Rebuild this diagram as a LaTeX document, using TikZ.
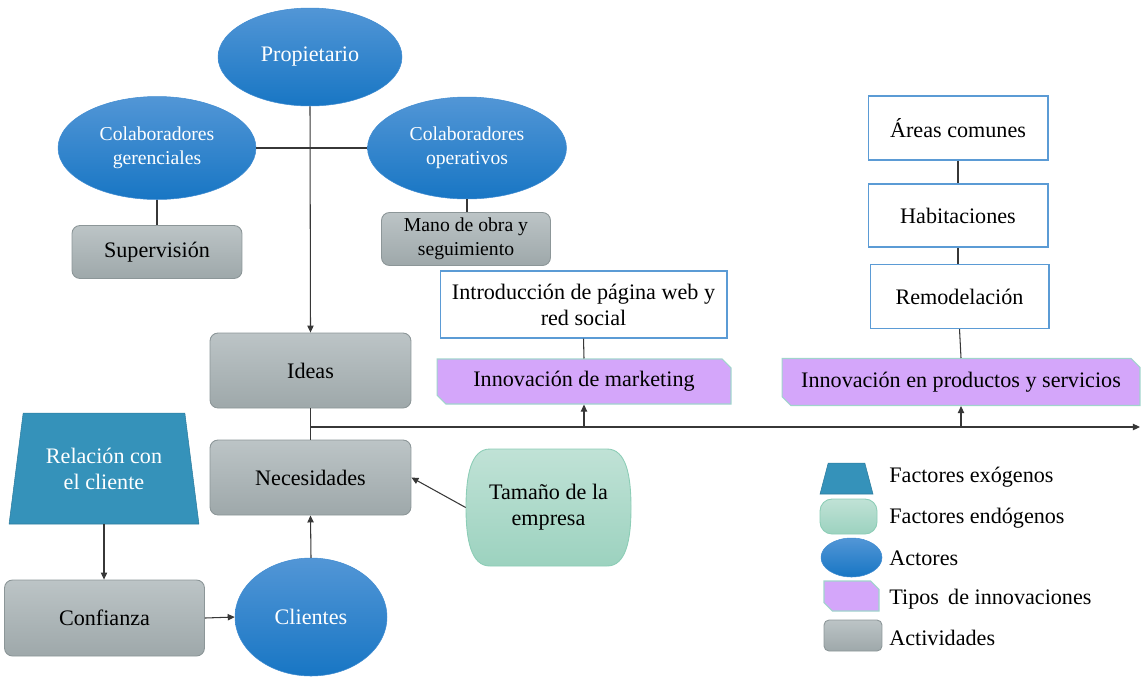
\documentclass[tikz,border=0pt]{standalone}
\usepackage{fontspec}
\setmainfont{Liberation Serif}
\usetikzlibrary{shapes.geometric,shapes.misc,arrows.meta}

\definecolor{actA}{RGB}{82,150,214}
\definecolor{actB}{RGB}{24,118,196}
\definecolor{grayA}{RGB}{188,196,198}
\definecolor{grayB}{RGB}{158,168,170}
\definecolor{grayEdge}{RGB}{140,150,152}
\definecolor{exoFill}{RGB}{53,146,186}
\definecolor{endoA}{RGB}{192,226,214}
\definecolor{endoB}{RGB}{156,210,191}
\definecolor{endoEdge}{RGB}{140,205,182}
\definecolor{innoFill}{RGB}{212,166,250}
\definecolor{innoEdge}{RGB}{160,212,204}
\definecolor{boxEdge}{RGB}{91,155,213}
\definecolor{wire}{RGB}{55,55,55}

\begin{document}
\begin{tikzpicture}[x=0.02cm,y=-0.02cm,
  every node/.style={font=\fontsize{12.6}{14.8}\selectfont},
  smalltext/.style={font=\fontsize{11.2}{13.7}\selectfont},
  actor/.style={ellipse, inner sep=0pt, top color=actA, bottom color=actB,
    draw=actA!70!actB, line width=0.3pt, text=white, align=center},
  activity/.style={rectangle, rounded corners=0.16cm, inner sep=0pt,
    top color=grayA, bottom color=grayB, draw=grayEdge, line width=0.5pt, align=center},
  plainbox/.style={rectangle, inner sep=0pt, fill=white, draw=boxEdge,
    line width=0.6pt, align=center},
  innov/.style={chamfered rectangle, chamfered rectangle corners={north east,south west},
    chamfered rectangle xsep=0.07cm, inner sep=0pt, fill=innoFill, draw=innoEdge,
    line width=0.6pt, align=center},
  exo/.style={trapezium, trapezium left angle=76.3, trapezium right angle=76.3,
    trapezium stretches=true, inner sep=0pt, fill=exoFill, draw=exoFill!85!black,
    line width=0.3pt, text=white, align=center},
  wireline/.style={draw=wire, line width=0.6pt},
  arrowline/.style={wireline, -{Triangle[length=4pt,width=3.6pt]}}
]
\useasboundingbox (0,0) rectangle (1141,677);

% ---------- actors ----------
\node[actor, minimum width=3.68cm, minimum height=1.96cm] (prop) at (310,57) {Propietario};
\node[actor, smalltext, minimum width=3.96cm, minimum height=2.06cm] (ger) at (157,148) {Colaboradores\\gerenciales};
\node[actor, smalltext, minimum width=3.98cm, minimum height=2.04cm] (ope) at (467,148) {Colaboradores\\operativos};
\node[actor, minimum width=3.04cm, minimum height=2.36cm] (cli) at (311,617) {Clientes};

% ---------- activities ----------
\node[activity, minimum width=3.4cm, minimum height=1.06cm] (sup) at (157,252) {Supervisión};
\node[activity, smalltext, minimum width=3.38cm, minimum height=1.06cm] (mano) at (466,239) {Mano de obra y\\seguimiento};
\node[activity, minimum width=4.02cm, minimum height=1.5cm] (ideas) at (310.5,370.5) {Ideas};
\node[activity, minimum width=4.02cm, minimum height=1.5cm] (need) at (310.5,477.5) {Necesidades};
\node[activity, minimum width=4.0cm, minimum height=1.52cm] (conf) at (104.5,618) {Confianza};

% ---------- innovation details ----------
\node[plainbox, minimum width=5.74cm, minimum height=1.34cm] (intro) at (583.5,304.5) {Introducción de página web y\\red social};
\node[plainbox, minimum width=3.6cm, minimum height=1.28cm] (areas) at (958,128) {Áreas comunes};
\node[plainbox, minimum width=3.6cm, minimum height=1.26cm] (hab) at (958,215.5) {Habitaciones};
\node[plainbox, minimum width=3.58cm, minimum height=1.28cm] (remo) at (959.5,296.5) {Remodelación};

% ---------- innovation types ----------
\node[innov, minimum width=5.88cm, minimum height=0.9cm] (mkt) at (584,381.5) {Innovación de marketing};
\node[innov, minimum width=7.16cm, minimum height=0.94cm] (prod) at (961,382) {Innovación en productos y servicios};

% ---------- exogenous factor ----------
\node[exo, minimum width=3.82cm, minimum height=2.22cm] (rel) at (104,468.5) {Relación con\\el cliente};

% ---------- endogenous factor ----------
\shade[top color=endoA, bottom color=endoB, draw=endoEdge, line width=0.5pt]
  (490,449) -- (607,449) .. controls (626,449) and (631,475) .. (631,507.5)
  .. controls (631,540) and (626,566) .. (607,566) -- (490,566)
  .. controls (471,566) and (466,540) .. (466,507.5)
  .. controls (466,475) and (471,449) .. (490,449) -- cycle;
\node[align=center, minimum width=3.3cm, minimum height=2.34cm, inner sep=0pt] (size) at (548.5,507.5) {Tamaño de la\\empresa};

% ---------- connectors ----------
\draw[arrowline] (prop.south) -- (ideas.north);
\draw[wireline] (ger.east) -- (ope.west);
\draw[wireline] (ger.south) -- (sup.north);
\draw[wireline] (ope.south) -- (mano.north -| ope.south);
\draw[wireline] (intro.south) -- (mkt.north);
\draw[wireline] (areas.south) -- (hab.north);
\draw[wireline] (hab.south) -- (remo.north -| hab.south);
\draw[wireline] (remo.south) -- (prod.north);
\draw[wireline] (ideas.south) -- (need.north);

\coordinate (branch) at (310.5,427);
\coordinate (axisend) at (1140,427);
\draw[arrowline] (branch) -- (axisend);
\draw[arrowline] (mkt.south |- branch) -- (mkt.south);
\draw[arrowline] (prod.south |- branch) -- (prod.south);

\draw[arrowline] (rel.south) -- (conf.north -| rel.south);
\draw[arrowline] (conf.east) -- (cli.west);
\draw[arrowline] (cli.north) -- (need.south);
\draw[arrowline] (size.west) -- (need.east);

% ---------- legend ----------
\node[exo, minimum width=1.06cm, minimum height=0.62cm] (lgexo) at (846.5,478.5) {\phantom{x}};
\node[rectangle, rounded corners=0.24cm, top color=endoA, bottom color=endoB, draw=endoEdge,
      line width=0.5pt, minimum width=1.14cm, minimum height=0.7cm] (lgendo) at (848.5,516.5) {};
\node[actor, minimum width=1.22cm, minimum height=0.78cm] (lgact) at (851.5,557.5) {};
\node[innov, chamfered rectangle xsep=0.06cm, minimum width=1.1cm, minimum height=0.6cm] (lginno) at (851.5,596) {\phantom{x}};
\node[activity, rounded corners=0.1cm, minimum width=1.16cm, minimum height=0.62cm] (lgact2) at (853,635.5) {};

\node[anchor=west, inner sep=0pt] (lt1) at (889,477) {Factores exógenos};
\node[anchor=west, inner sep=0pt] (lt2) at (889,518) {Factores endógenos};
\node[anchor=west, inner sep=0pt] (lt3) at (889,558) {Actores};
\node[anchor=west, inner sep=0pt] (lt4) at (889,599) {Tipos\, de innovaciones};
\node[anchor=west, inner sep=0pt] (lt5) at (889,638) {Actividades};
\end{tikzpicture}
\end{document}
